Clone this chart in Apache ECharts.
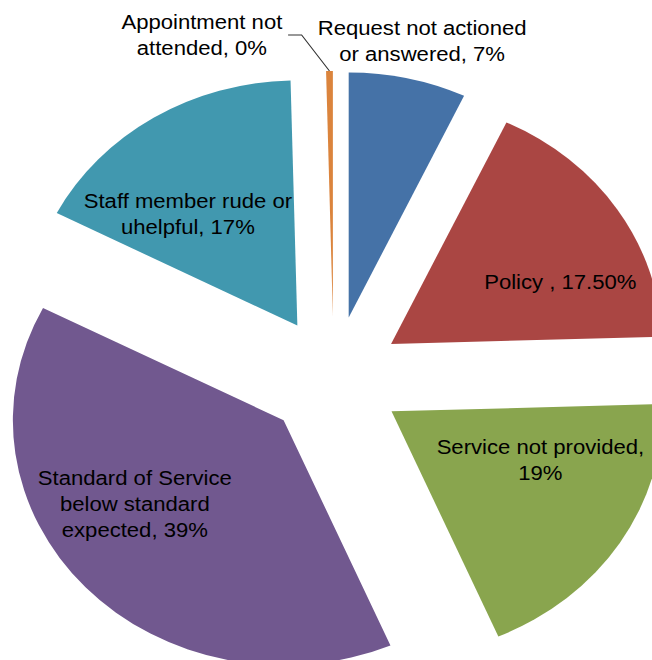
<!DOCTYPE html>
<html><head><meta charset="utf-8">
<script src="https://cdn.jsdelivr.net/npm/echarts@6/dist/echarts.min.js"></script>
<style>
html,body{margin:0;padding:0;background:#fff;overflow:hidden;}
#wrap{width:652px;height:660px;overflow:hidden;position:relative;}
#chart{width:590px;height:660px;transform:scaleX(1.1051);transform-origin:0 0;}
</style></head><body>
<div id="wrap"><div id="chart"></div></div>
<script>
// Data
const categories = ['Request not actioned or answered', 'Policy ', 'Service not provided',
  'Standard of Service below standard expected', 'Staff member rude or uhelpful', 'Appointment not attended'];
const values = [7, 17.5, 19, 39, 17, 0.4];
const valueLabels = ['7%', '17.50%', '19%', '39%', '17%', '0%'];

// Label wrapping (text layout)
const wrappedNames = ['Request not actioned\nor answered', 'Policy ', 'Service not provided',
  'Standard of Service\nbelow standard\nexpected', 'Staff member rude or\nuhelpful', 'Appointment not\nattended'];
const separators = [', ', ', ', ',\n', ', ', ', ', ', '];

// Styles / layout
const colors = ['#4572A7', '#AA4643', '#89A54E', '#71588F', '#4198AF', '#DB843D'];
const pieCenter = [302, 378];
const pieRadius = 245;
const explode = 62;
const labelBoxWidth = [192, 140, 190, 180, 192, 146];
const labelCenterX = [382, 507, 489, 122, 170, null];
const labelCenterY = [40.5, 282, 460, 503.5, 214, null];
const showLeader = [false, false, false, false, false, true];

function labelText(i) {
  const t = wrappedNames[i] + separators[i] + valueLabels[i];
  return t.split('\n').map(s => '{c' + i + '|' + s + '}').join('\n');
}

const rich = {};
labelBoxWidth.forEach((w, i) => {
  rich['c' + i] = {width: w, align: 'center', fontFamily: 'Liberation Sans, Arial, sans-serif',
    fontSize: 20, lineHeight: 26, color: '#000'};
});

// place each outside label (line hidden) so its text block sits at the wanted spot
const total = values.reduce((a, b) => a + b, 0);
let acc = 0;
const labelLines = values.map((v, i) => {
  const mid = (acc + v / 2) / total * Math.PI * 2;
  acc += v;
  if (labelCenterX[i] == null) return {show: showLeader[i], length: 36, length2: 37, minTurnAngle: 125};
  const ux = Math.sin(mid), uy = -Math.cos(mid);
  const R = pieRadius + explode;
  const along = (labelCenterY[i] - pieCenter[1]) / uy;
  const x2 = pieCenter[0] + along * ux;
  const sign = ux < 0 ? -1 : 1;
  const anchorX = labelCenterX[i] - sign * labelBoxWidth[i] / 2;
  const x3 = anchorX - sign * 5;
  return {show: showLeader[i], length: along - R, length2: sign * (x3 - x2)};
});

const chart = echarts.init(document.getElementById('chart'), null, {renderer: 'svg', width: 590, height: 660});
chart.setOption({
  animation: false,
  backgroundColor: '#ffffff',
  series: [{
    type: 'pie',
    center: pieCenter,
    radius: pieRadius,
    startAngle: 90,
    clockwise: true,
    selectedMode: 'multiple',
    selectedOffset: explode,
    avoidLabelOverlap: false,
    emphasis: {disabled: true},
    label: {
      position: 'outside',
      fontFamily: 'Liberation Sans, Arial, sans-serif',
      fontSize: 20,
      lineHeight: 26,
      color: '#000',
      formatter: p => labelText(p.dataIndex),
      rich: rich
    },
    labelLine: {smooth: false, lineStyle: {color: '#333333', width: 1}},
    data: categories.map((c, i) => ({
      name: c,
      value: values[i],
      selected: true,
      itemStyle: {color: colors[i]},
      select: {itemStyle: {color: colors[i], borderWidth: 0}},
      labelLine: labelLines[i]
    }))
  }]
});
</script>
</body></html>
